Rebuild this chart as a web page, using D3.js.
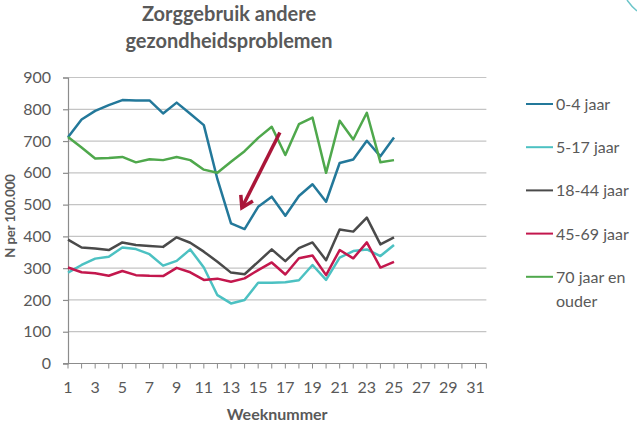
<!DOCTYPE html>
<html>
<head>
<meta charset="utf-8">
<script src="https://cdn.jsdelivr.net/npm/d3@7"></script>
<style>
    body { margin: 0; background: #fff; }
    svg { display: block; font-family: Lato, 'Open Sans', sans-serif; }
</style>
</head>
<body>
<svg id="chart" width="637" height="427"></svg>
<script>

// weeks 1..25 with data, axis runs to week 31
var weeks = d3.range(1, 26);
var weekTicks = d3.range(1, 32);
var weekLabels = d3.range(1, 32, 2);
var yTicks = [0, 100, 200, 300, 400, 500, 600, 700, 800, 900];

var seriesNames = ['0-4 jaar', '5-17 jaar', '18-44 jaar', '45-69 jaar', '70 jaar en ouder'];
var seriesColors = ['#23789a', '#4cc1c2', '#4a4a4a', '#c3174d', '#4fa84c'];

var age0_4 = [712, 768, 795, 813, 829, 828, 828, 787, 821, 786, 750, 580, 441, 423, 493, 525, 465, 527, 564, 509, 631, 642, 701, 652, 711];
var age5_17 = [286, 310, 330, 336, 365, 360, 344, 308, 323, 359, 302, 215, 189, 200, 254, 254, 256, 262, 310, 263, 333, 354, 359, 338, 373];
var age18_44 = [390, 365, 362, 357, 381, 373, 370, 367, 397, 380, 352, 320, 286, 281, 320, 359, 322, 363, 381, 325, 422, 415, 459, 375, 397];
var age45_69 = [302, 287, 284, 276, 291, 278, 276, 275, 301, 287, 263, 267, 257, 268, 294, 318, 280, 331, 340, 278, 357, 331, 381, 302, 320];
var age70plus = [713, 680, 645, 647, 650, 633, 643, 640, 650, 640, 610, 600, 635, 668, 710, 745, 656, 753, 774, 600, 764, 705, 789, 633, 640];

// annotation arrow, in week / value units
var arrowFrom = [16.6, 727];
var arrowTo = [13.8, 490];

var allSeries = [age0_4, age5_17, age18_44, age45_69, age70plus];

var svg = d3.select('#chart');
var textColor = '#595959';

var x = d3.scaleLinear()
    .domain([1, 31])
    .range([68, 475.5]);

var y = d3.scaleLinear()
    .domain([0, 900])
    .range([363.5, 77.5]);

var axisEnd = x(31.8);

// gridlines
svg.selectAll('.grid')
    .data(yTicks.slice(1))
    .enter()
    .append('line')
        .attr('class', 'grid')
        .attr('x1', x(1))
        .attr('x2', axisEnd)
        .attr('y1', function(d) { return y(d); })
        .attr('y2', function(d) { return y(d); })
        .attr('stroke', '#c4c4c4')
        .attr('stroke-width', 1.2);

// y axis
var yAxis = svg.append('g')
    .attr('transform', 'translate(' + x(1) + ',0)')
    .call(d3.axisLeft(y).tickValues(yTicks).tickSize(5).tickPadding(12));

yAxis.select('.domain').attr('stroke', '#8c8c8c').attr('stroke-width', 1.2);
yAxis.selectAll('.tick line').attr('stroke', '#8c8c8c').attr('stroke-width', 1.2);
yAxis.selectAll('.tick text')
    .attr('fill', textColor)
    .style('font-size', '16px')
    .style('font-family', 'Lato, sans-serif');

// x axis
var xg = svg.append('g')
    .attr('transform', 'translate(0,' + y(0) + ')');

xg.append('line')
    .attr('x1', x(1) - 5)
    .attr('x2', axisEnd)
    .attr('stroke', '#8c8c8c')
    .attr('stroke-width', 1.2);

xg.selectAll('.xtick')
    .data(weekTicks.concat([31.8]))
    .enter()
    .append('line')
        .attr('x1', function(d) { return x(d); })
        .attr('x2', function(d) { return x(d); })
        .attr('y1', 0)
        .attr('y2', 5)
        .attr('stroke', '#8c8c8c')
        .attr('stroke-width', 1);

xg.selectAll('.xlabel')
    .data(weekLabels)
    .enter()
    .append('text')
        .attr('x', function(d) { return x(d); })
        .attr('y', 29)
        .attr('text-anchor', 'middle')
        .attr('fill', textColor)
        .style('font-size', '16px')
        .text(function(d) { return d; });

// axis titles
svg.append('text')
    .attr('x', (x(1) + axisEnd) / 2)
    .attr('y', 420)
    .attr('text-anchor', 'middle')
    .attr('fill', textColor)
    .style('font-size', '16px')
    .style('font-weight', 'bold')
    .text('Weeknummer');

svg.append('text')
    .attr('transform', 'translate(15,216) rotate(-90)')
    .attr('text-anchor', 'middle')
    .attr('fill', textColor)
    .style('font-size', '13px')
    .style('font-weight', 'bold')
    .text('N per 100.000');

// chart title
svg.append('text')
    .attr('x', 229)
    .attr('y', 21)
    .attr('text-anchor', 'middle')
    .attr('fill', textColor)
    .style('font-size', '20px')
    .style('font-weight', 'bold')
    .text('Zorggebruik andere');

svg.append('text')
    .attr('x', 229)
    .attr('y', 48)
    .attr('text-anchor', 'middle')
    .attr('fill', textColor)
    .style('font-size', '20px')
    .style('font-weight', 'bold')
    .text('gezondheidsproblemen');

// lines
var line = d3.line()
    .x(function(d, i) { return x(weeks[i]); })
    .y(function(d) { return y(d); });

svg.selectAll('.serie')
    .data(allSeries)
    .enter()
    .append('path')
        .attr('class', 'serie')
        .attr('d', line)
        .attr('fill', 'none')
        .attr('stroke', function(d, i) { return seriesColors[i]; })
        .attr('stroke-width', 2.5)
        .attr('stroke-linejoin', 'round');

// arrow
var ax1 = x(arrowFrom[0]), ay1 = y(arrowFrom[1]);
var ax2 = x(arrowTo[0]), ay2 = y(arrowTo[1]);
var ang = Math.atan2(ay2 - ay1, ax2 - ax1);
var headLen = 13;

svg.append('line')
    .attr('x1', ax1)
    .attr('y1', ay1)
    .attr('x2', ax2)
    .attr('y2', ay2)
    .attr('stroke', '#aa1639')
    .attr('stroke-width', 3.5);

svg.append('path')
    .attr('d', 'M' + (ax2 - headLen * Math.cos(ang - 0.55)) + ',' + (ay2 - headLen * Math.sin(ang - 0.55)) +
        'L' + ax2 + ',' + ay2 +
        'L' + (ax2 - headLen * Math.cos(ang + 0.55)) + ',' + (ay2 - headLen * Math.sin(ang + 0.55)))
    .attr('fill', 'none')
    .attr('stroke', '#aa1639')
    .attr('stroke-width', 3.5)
    .attr('stroke-linejoin', 'miter');

// legend
var legend = svg.selectAll('.legend')
    .data(seriesNames)
    .enter()
    .append('g')
        .attr('class', 'legend')
        .attr('transform', function(d, i) { return 'translate(526,' + (104 + i * 43.2) + ')'; });

legend.append('line')
    .attr('x1', 0)
    .attr('x2', 27)
    .attr('stroke', function(d, i) { return seriesColors[i]; })
    .attr('stroke-width', 2);

legend.append('text')
    .attr('x', 30)
    .attr('y', 6)
    .attr('fill', textColor)
    .style('font-size', '16px')
    .each(function(d) {
        var t = d3.select(this);
        if (d === '70 jaar en ouder') {
            t.append('tspan').attr('x', 30).text('70 jaar en');
            t.append('tspan').attr('x', 30).attr('dy', 24).text('ouder');
        } else {
            t.text(d);
        }
    });

// slide decoration top right
svg.append('path')
    .attr('d', 'M627,0 Q632,7 637,11')
    .attr('fill', 'none')
    .attr('stroke', '#6cc5c9')
    .attr('stroke-width', 1.5);

</script>
</body>
</html>
